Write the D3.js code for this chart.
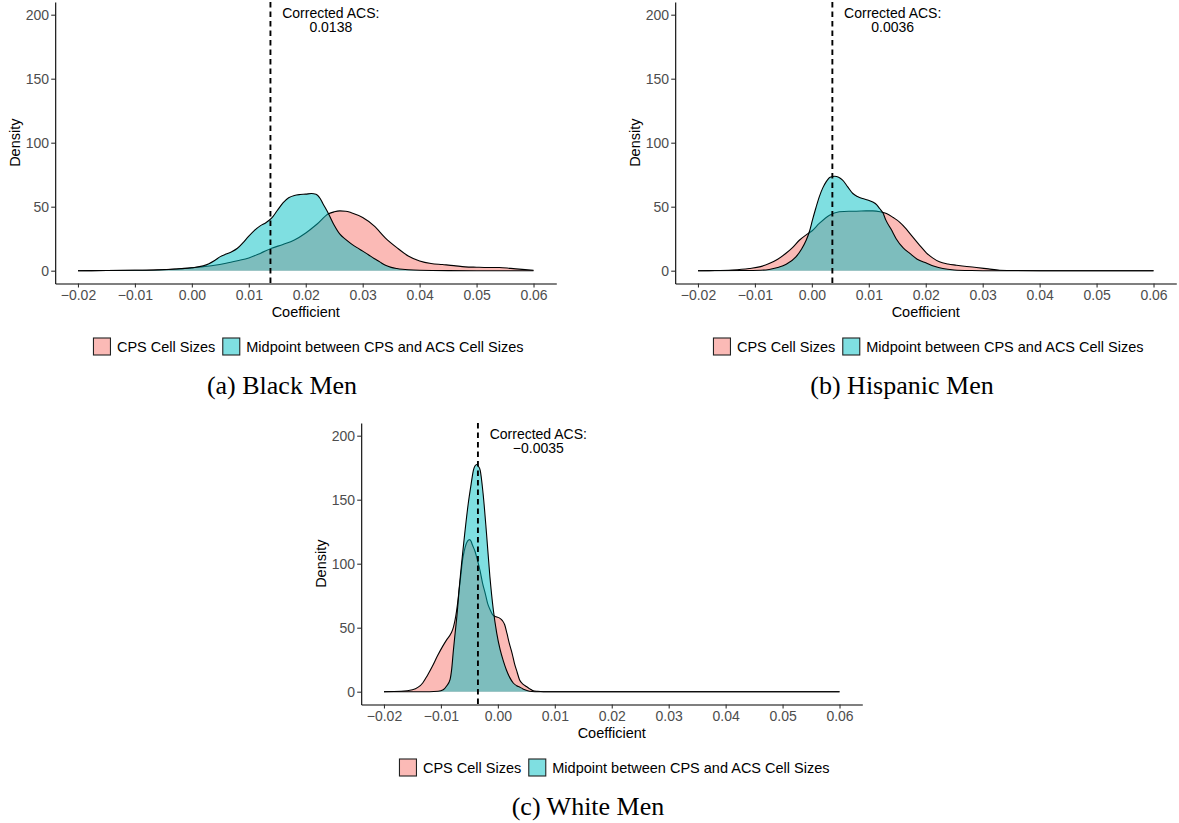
<!DOCTYPE html>
<html><head><meta charset="utf-8">
<script src="https://cdn.jsdelivr.net/npm/d3@7"></script>
<style>
html,body{margin:0;padding:0;background:#fff;}
svg{display:block;}
</style></head>
<body>
<svg id="chart" width="1179" height="823"></svg>
<script>
// ---------------- data ----------------
const xTicks = [-0.02, -0.01, 0, 0.01, 0.02, 0.03, 0.04, 0.05, 0.06];
const yTicks = [0, 50, 100, 150, 200];
const seriesNames = ["CPS Cell Sizes", "Midpoint between CPS and ACS Cell Sizes"];
const panelLabels = ["(a) Black Men", "(b) Hispanic Men", "(c) White Men"];
const correctedACS = [0.0138, 0.0036, -0.0035];
const correctedLabels = ["0.0138", "0.0036", "\u22120.0035"];
const annotTitle = "Corrected ACS:";

// Black men
const blackCpsX = [-0.02,-0.015,-0.01,-0.006,-0.003,0,0.002,0.004,0.006,0.008,0.01,0.012,0.014,0.016,0.018,0.02,0.022,0.024,0.025,0.026,0.027,0.028,0.03,0.032,0.034,0.036,0.038,0.04,0.042,0.044,0.046,0.048,0.05,0.052,0.054,0.056,0.058,0.06];
const blackCpsY = [0,0.1,0.3,0.7,1.3,2.2,3.2,4.2,5.8,7.8,10,13.5,17.5,20.5,24,29.5,36.5,44.5,46,46.7,46.5,45.3,41.5,35,25.5,18,11.5,7.6,5.6,4.8,4,3,2.7,2.5,2.5,1.8,1,0.3];
const blackMidX = [-0.02,-0.015,-0.01,-0.005,-0.002,0,0.002,0.003,0.004,0.005,0.006,0.007,0.008,0.009,0.01,0.011,0.012,0.013,0.014,0.015,0.016,0.017,0.018,0.019,0.02,0.021,0.0218,0.0225,0.023,0.024,0.025,0.026,0.027,0.028,0.029,0.03,0.031,0.032,0.033,0.034,0.035,0.036,0.037,0.038,0.04,0.045,0.05,0.06];
const blackMidY = [0,0.1,0.3,0.8,1.5,2.3,3.8,5.5,8,11,13,14.8,17.5,22,27,31.5,35,37.5,41,47,53,57,58.8,59.5,59.8,60.3,59.8,56.6,52.5,44.5,35.5,28.5,24.5,21,18,15.3,12.5,9.5,6.9,4.2,2.6,1.7,1.1,0.7,0.3,0.05,0,0];

// Hispanic men
const hispCpsX = [-0.02,-0.017,-0.014,-0.011,-0.009,-0.0075,-0.006,-0.0046,-0.0034,-0.0022,-0.001,0,0.0013,0.0031,0.0048,0.0065,0.0078,0.0095,0.0107,0.012,0.0131,0.0143,0.0154,0.0166,0.0177,0.0189,0.0201,0.0212,0.0224,0.0239,0.0254,0.0272,0.0289,0.031,0.033,0.036,0.04,0.06];
const hispCpsY = [0,0.1,0.5,1.7,3.2,5.6,9,13.4,18,23.8,28,31,36.9,43.4,46,46.5,46.5,46.7,46.7,46,44.7,41.5,38,32.5,26.4,20,14,10,6.9,5.2,4.3,3.3,2.5,1.4,0.4,0.1,0,0];
const hispMidX = [-0.02,-0.012,-0.009,-0.0075,-0.006,-0.0045,-0.0028,-0.0018,-0.001,-0.0004,0.0001,0.0007,0.0013,0.0019,0.0025,0.0032,0.004,0.0047,0.0054,0.0063,0.0072,0.008,0.0089,0.0098,0.0107,0.0114,0.0119,0.0125,0.013,0.0139,0.0148,0.016,0.0172,0.0185,0.0201,0.0215,0.023,0.025,0.028,0.03,0.06];
const hispMidY = [0,0.1,0.4,1,2.5,5,10.8,17,23.8,31,39.5,49,57.7,64.5,69.4,73,73.8,73,70.7,65.5,60.3,58,56.4,55.3,53.7,51.5,48.6,45,39.5,32.5,25,18,13.5,9,6,3.5,1.7,0.6,0.1,0,0];

// White men
const whiteCpsX = [-0.02,-0.017,-0.015,-0.0132,-0.0124,-0.0115,-0.0106,-0.0097,-0.009,-0.0082,-0.0078,-0.0074,-0.0071,-0.0068,-0.0065,-0.0062,-0.0059,-0.0056,-0.0053,-0.005,-0.0047,-0.0045,-0.004,-0.0036,-0.0031,-0.0027,-0.0022,-0.0018,-0.0013,-0.0009,-0.0003,0.0003,0.0008,0.0012,0.0016,0.002,0.0025,0.0029,0.0034,0.0038,0.0044,0.005,0.0056,0.0061,0.007,0.008,0.06];
const whiteCpsY = [0,0.3,1.5,6.8,12.5,19.8,28,35.4,40.5,45.8,50.5,58.8,68,79.7,91,103,110,115,117.8,118.8,117.5,115,109.5,103,94,85,76.5,69,63.5,60,58.5,57.5,55.5,52.3,45.5,38,30,22.4,15,9.4,6,4.1,2.2,1,0.3,0,0];
const whiteMidX = [-0.02,-0.012,-0.0105,-0.0096,-0.009,-0.0084,-0.0081,-0.0078,-0.0075,-0.0072,-0.0067,-0.006,-0.0052,-0.0047,-0.0043,-0.004,-0.0037,-0.0034,-0.0031,-0.0026,-0.002,-0.0014,-0.0008,-0.0002,0.0004,0.001,0.0015,0.0021,0.0027,0.0033,0.0038,0.0044,0.0051,0.006,0.007,0.06];
const whiteMidY = [0,0,0.3,1.5,4.5,9.4,18,32.8,46,58.8,85,116,147,162,173,176.5,177.5,176,173,155,124,90,64,45.8,32.8,23.5,17,11,6.8,4.7,3.7,2.2,1,0.2,0,0];

const seriesColors = ["#F8766D", "#00BFC4"];

// ---------------- layout ----------------
const svg = d3.select("#chart");
const FONT = "'Liberation Sans', Arial, Helvetica, sans-serif";
const panels = [
  {dx: 0,   dy: 0,   series: [[blackCpsX, blackCpsY], [blackMidX, blackMidY]]},
  {dx: 620, dy: 0,   series: [[hispCpsX, hispCpsY], [hispMidX, hispMidY]]},
  {dx: 306, dy: 421, series: [[whiteCpsX, whiteCpsY], [whiteMidX, whiteMidY]]}
];

const x = d3.scaleLinear().domain([-0.024, 0.064]).range([55.2, 556.3]);
const y = d3.scaleLinear().domain([-10, 210]).range([283.5, 1.9]);
const annotOffset = 0.0106;

panels.forEach((p, pi) => {
  const g = svg.append("g").attr("transform", `translate(${p.dx},${p.dy})`);

  // density areas + outlines
  p.series.forEach((s, si) => {
    const pts = s[0].map((xv, i) => [xv, s[1][i]]);
    const area = d3.area().x(d => x(d[0])).y0(y(0)).y1(d => y(d[1])).curve(d3.curveMonotoneX);
    const line = d3.line().x(d => x(d[0])).y(d => y(d[1])).curve(d3.curveMonotoneX);
    g.append("path").attr("d", area(pts)).attr("fill", seriesColors[si]).attr("fill-opacity", 0.5);
    g.append("path").attr("d", line(pts)).attr("fill", "none").attr("stroke", "#000").attr("stroke-width", 1.1);
  });

  // dashed vertical line
  const v = correctedACS[pi];
  g.append("line")
    .attr("x1", x(v)).attr("x2", x(v))
    .attr("y1", y(210)).attr("y2", y(-10))
    .attr("stroke", "#000").attr("stroke-width", 1.9)
    .attr("stroke-dasharray", "5.5,4");

  // annotation (two separate lines)
  [annotTitle, correctedLabels[pi]].forEach((txt, li) => {
    g.append("text").attr("font-family", FONT).attr("font-size", 14).attr("fill", "#000")
      .attr("text-anchor", "middle")
      .attr("x", x(v + annotOffset)).attr("y", 18 + li * 14)
      .text(txt);
  });

  // axes
  const fmt = d3.format(".2f");
  const xa = g.append("g").attr("transform", `translate(0,${y(-10)})`)
    .call(d3.axisBottom(x).tickValues(xTicks).tickFormat(fmt).tickSize(4).tickSizeOuter(0).tickPadding(2.3));
  const ya = g.append("g").attr("transform", `translate(${x(-0.024)},0)`)
    .call(d3.axisLeft(y).tickValues(yTicks).tickSize(4).tickSizeOuter(0).tickPadding(2.2));
  [xa, ya].forEach(a => {
    a.select(".domain").attr("stroke", "#000").attr("stroke-width", 1.1);
    a.selectAll(".tick line").attr("stroke", "#333").attr("stroke-width", 1.1);
    a.selectAll(".tick text").attr("fill", "#4D4D4D").attr("font-size", 14).attr("font-family", FONT);
  });

  // axis titles
  g.append("text").attr("x", (x(-0.024) + x(0.064)) / 2).attr("y", 317)
    .attr("text-anchor", "middle").attr("font-family", FONT).attr("font-size", 14.5).attr("fill", "#000")
    .text("Coefficient");
  g.append("text").attr("transform", `translate(20,${(y(210) + y(-10)) / 2}) rotate(-90)`)
    .attr("text-anchor", "middle").attr("font-family", FONT).attr("font-size", 14.5).attr("fill", "#000")
    .text("Density");

  // legend
  const lg = g.append("g");
  const keySize = 17;
  let cx = 0;
  seriesNames.forEach((name, si) => {
    lg.append("rect").attr("x", cx).attr("y", -keySize / 2).attr("width", keySize).attr("height", keySize)
      .attr("fill", seriesColors[si]).attr("fill-opacity", 0.5)
      .attr("stroke", "#222").attr("stroke-width", 1.1);
    cx += keySize + 6.5;
    const t = lg.append("text").attr("x", cx).attr("y", 5.2)
      .attr("font-family", FONT).attr("font-size", 14.5).attr("fill", "#000").text(name);
    cx += t.node().getComputedTextLength() + 7.5;
  });
  const totalW = cx - 7.5;
  lg.attr("transform", `translate(${308.5 - totalW / 2},346.5)`);

  // caption
  g.append("text").attr("x", 282).attr("y", 393.5).attr("text-anchor", "middle")
    .attr("font-family", "'Liberation Serif', 'Times New Roman', serif").attr("font-size", 26).attr("fill", "#000")
    .text(panelLabels[pi]);
});
</script>
</body></html>
